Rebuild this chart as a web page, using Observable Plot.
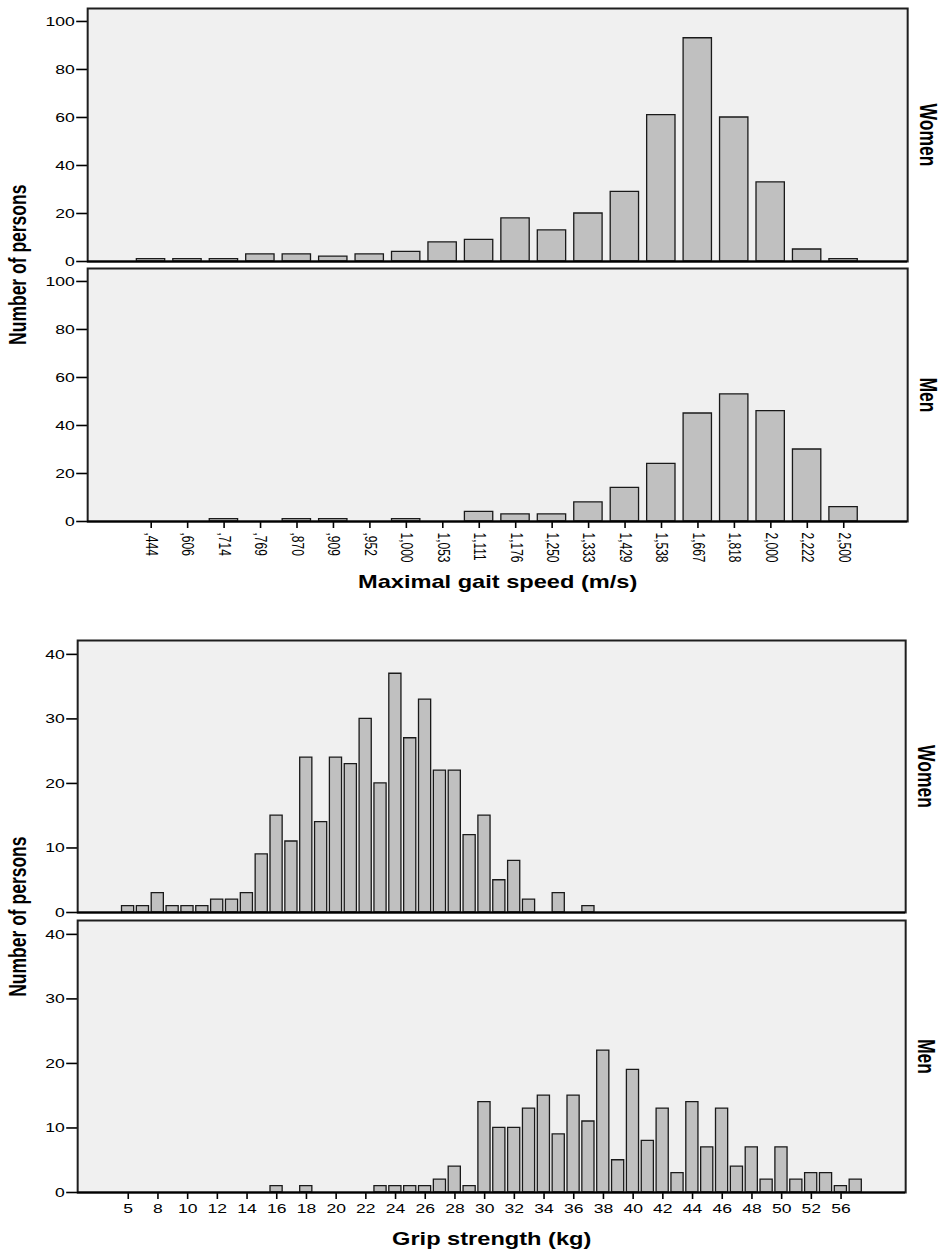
<!DOCTYPE html>
<html>
<head>
<meta charset="utf-8">
<script src="https://cdn.jsdelivr.net/npm/d3@7"></script>
<script src="https://cdn.jsdelivr.net/npm/@observablehq/plot@0.6"></script>
<style>
  body { margin: 0; background: #fff; }
  #chart svg { display: block; }
  #chart svg * { vector-effect: non-scaling-stroke; }
  #chart g[aria-label^="y-axis"] text { font-size: 13px; }
  #chart .grip g[aria-label^="x-axis"] text { font-size: 13px; }
  #chart g[aria-label^="x-axis"] path, #chart g[aria-label^="y-axis"] path,
  #chart g[aria-label^="x-axis"] line, #chart g[aria-label^="y-axis"] line { stroke-width: 1.6px; }
</style>
</head>
<body>
<div id="chart"></div>
<script>
// ---------- data ----------
const sexes = ["Women", "Men"];

const gaitCategories = [",444", ",606", ",714", ",769", ",870", ",909", ",952", "1,000", "1,053", "1,111",
  "1,176", "1,250", "1,333", "1,429", "1,538", "1,667", "1,818", "2,000", "2,222", "2,500"];
const gaitWomen = [1, 1, 1, 3, 3, 2, 3, 4, 8, 9, 18, 13, 20, 29, 61, 93, 60, 33, 5, 1];
const gaitMen   = [0, 0, 1, 0, 1, 1, 0, 1, 0, 4, 3, 3, 8, 14, 24, 45, 53, 46, 30, 6];
const gaitYTicks = [0, 20, 40, 60, 80, 100];

const gripCategories = ["5", "6", "8", "9", "10", "11", "12", "13", "14", "15", "16", "17", "18", "19", "20",
  "21", "22", "23", "24", "25", "26", "27", "28", "29", "30", "31", "32", "33", "34", "35", "36", "37", "38",
  "39", "40", "41", "42", "43", "44", "45", "46", "47", "48", "49", "50", "51", "52", "54", "56", "58"];
const gripWomen = [1, 1, 3, 1, 1, 1, 2, 2, 3, 9, 15, 11, 24, 14, 24, 23, 30, 20, 37, 27, 33, 22, 22, 12, 15,
  5, 8, 2, 0, 3, 0, 1, 0, 0, 0, 0, 0, 0, 0, 0, 0, 0, 0, 0, 0, 0, 0, 0, 0, 0];
const gripMen = [0, 0, 0, 0, 0, 0, 0, 0, 0, 0, 1, 0, 1, 0, 0, 0, 0, 1, 1, 1, 1, 2, 4, 1, 14, 10, 10, 13, 15,
  9, 15, 11, 22, 5, 19, 8, 13, 3, 14, 7, 13, 4, 7, 2, 7, 2, 3, 3, 1, 2];
const gripTickLabels = ["5", "8", "10", "12", "14", "16", "18", "20", "22", "24", "26", "28", "30", "32", "34",
  "36", "38", "40", "42", "44", "46", "48", "50", "52", "56"];
const gripYTicks = [0, 10, 20, 30, 40];

const yLabel = "Number of persons";
const gaitTitle = "Maximal gait speed (m/s)";
const gripTitle = "Grip strength (kg)";

// ---------- drawing ----------
const S = 1.35;            // horizontal stretch of the reference
const W = 947, W0 = W / S;

function panel(o) {
  const rows = [];
  o.categories.forEach((c, i) => {
    rows.push({cat: c, sex: "Women", n: o.women[i]});
    rows.push({cat: c, sex: "Men", n: o.men[i]});
  });
  const marginLeft = o.left / S, marginRight = (W - o.right) / S;
  const bold = {fontWeight: "bold", fontSize: 17.5, textAnchor: "middle", lineAnchor: "middle"};
  const svg = Plot.plot({
    width: W0, height: o.height,
    marginLeft, marginRight, marginTop: o.top, marginBottom: o.height - o.bottom,
    style: {fontFamily: "'Liberation Sans', Arial, sans-serif", fontSize: "12px", color: "#000", background: "#fff"},
    x: {type: "band", domain: o.categories, paddingInner: o.pi, paddingOuter: o.po, ticks: o.ticks,
        tickSize: 7, tickPadding: o.tickPadding, tickRotate: o.tickRotate, label: null},
    y: {domain: [0, o.yMax], ticks: o.yTicks, tickSize: 8, tickPadding: 1.5, label: null},
    fy: {domain: sexes, paddingInner: o.gap / ((o.bottom - o.top + o.gap) / 2), paddingOuter: 0, axis: null, label: null},
    marks: [
      Plot.frame({fill: "#f0f0f0"}),
      Plot.barY(rows.filter(d => d.n > 0), {x: "cat", y: "n", fy: "sex", fill: "#c0c0c0", stroke: "#1a1a1a", strokeWidth: 1.3}),
      Plot.frame({stroke: "#1e1e1e", strokeWidth: 2}),
      Plot.ruleY([0], {stroke: "#000", strokeWidth: 2}),
      Plot.text(sexes, {fy: d => d, text: d => d, frameAnchor: "right", rotate: 90, dx: 20 / S, ...bold}),
      Plot.text([yLabel], {fy: ["Men"], frameAnchor: "top-left", rotate: -90, dx: 18 / S - marginLeft,
        dy: -o.gap / 2, ...bold}),
      Plot.text([o.title], {fy: ["Men"], frameAnchor: "bottom", dy: o.titleDy, ...bold})
    ]
  });
  svg.setAttribute("width", W);
  svg.setAttribute("preserveAspectRatio", "none");
  svg.style.width = W + "px";
  svg.style.maxWidth = "none";
  svg.style.height = o.height + "px";
  const div = document.createElement("div");
  div.className = o.cls;
  div.appendChild(svg);
  document.getElementById("chart").appendChild(div);
}

panel({
  cls: "gait", categories: gaitCategories, women: gaitWomen, men: gaitMen, ticks: gaitCategories,
  yTicks: gaitYTicks, yMax: 105.4, height: 605, top: 7, bottom: 521, gap: 7.5,
  left: 87, right: 907, pi: 0.24, po: 1.22, tickRotate: 90, tickPadding: 4,
  title: gaitTitle, titleDy: 61
});

panel({
  cls: "grip", categories: gripCategories, women: gripWomen, men: gripMen, ticks: gripTickLabels,
  yTicks: gripYTicks, yMax: 42.15, height: 649, top: 35, bottom: 587.3, gap: 7.7,
  left: 77, right: 905, pi: 0.2, po: 2.83, tickRotate: 0, tickPadding: 4,
  title: gripTitle, titleDy: 47
});
</script>
</body>
</html>
